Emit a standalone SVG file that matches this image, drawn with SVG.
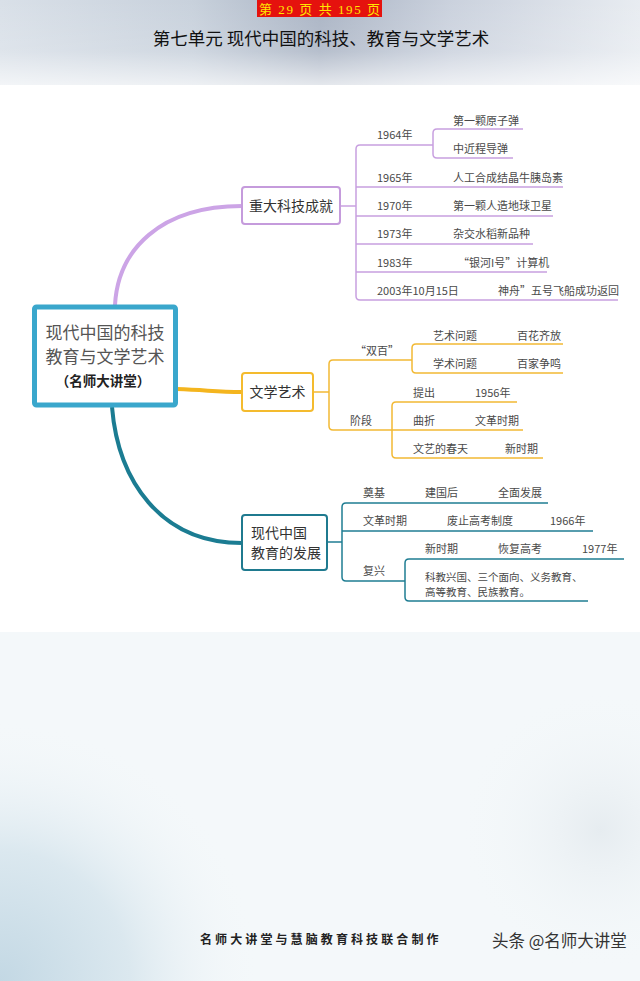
<svg xmlns="http://www.w3.org/2000/svg" width="640" height="981" viewBox="0 0 640 981">
<defs>
<linearGradient id="topH" x1="0" y1="0" x2="1" y2="0">
<stop offset="0" stop-color="#d9e0e8"/>
<stop offset="0.3" stop-color="#c8d1dc"/>
<stop offset="0.5" stop-color="#aab4c4"/>
<stop offset="0.7" stop-color="#cad1dd"/>
<stop offset="1" stop-color="#e8ecf1"/>
</linearGradient>
<linearGradient id="topV" x1="0" y1="0" x2="0" y2="1">
<stop offset="0" stop-color="#ffffff" stop-opacity="0"/>
<stop offset="0.6" stop-color="#ffffff" stop-opacity="0.15"/>
<stop offset="1" stop-color="#ffffff" stop-opacity="0.7"/>
</linearGradient>
<radialGradient id="blBlue" cx="0" cy="981" r="260" gradientUnits="userSpaceOnUse">
<stop offset="0" stop-color="#c3d8e4"/>
<stop offset="0.5" stop-color="#dbe8ef"/>
<stop offset="1" stop-color="#f4f8fa" stop-opacity="0"/>
</radialGradient>
<radialGradient id="brGray" cx="600" cy="830" r="140" gradientUnits="userSpaceOnUse">
<stop offset="0" stop-color="#e6ecf0"/>
<stop offset="1" stop-color="#f4f8fa" stop-opacity="0"/>
</radialGradient>
<style>
.t{font-family:"Noto Sans CJK SC","Noto Sans",sans-serif;fill:#4a4a4a;font-size:11px}
.n{font-family:"Noto Sans CJK SC","Noto Sans",sans-serif;fill:#333;font-size:14px}
.pl{fill:none;stroke:#c8a0e0;stroke-width:1.5}
.yl{fill:none;stroke:#f2b934;stroke-width:1.5}
.tl{fill:none;stroke:#1f7d93;stroke-width:1.5}
</style>
</defs>
<rect x="0" y="0" width="640" height="981" fill="#f4f8fa"/>
<rect x="0" y="632" width="640" height="349" fill="url(#blBlue)"/>
<rect x="0" y="632" width="640" height="349" fill="url(#brGray)"/>
<rect x="0" y="0" width="640" height="86" fill="url(#topH)"/>
<rect x="0" y="0" width="640" height="86" fill="url(#topV)"/>
<rect x="0" y="85" width="640" height="547" fill="#ffffff"/>

<g id="header">
<rect x="257" y="0" width="125" height="17" fill="#e5120e"/>
<text x="259" y="13.5" textLength="121" lengthAdjust="spacing" font-family="'Liberation Serif','Noto Sans CJK SC',serif" font-size="13" fill="#ffe600" xml:space="preserve">第 29 页 共 195 页</text>
<text x="321" y="45" text-anchor="middle" font-family="'Noto Sans CJK SC',sans-serif" font-size="17.5" fill="#111">第七单元 现代中国的科技、教育与文学艺术</text>
</g>

<g id="connectors">
<path d="M115,305 C118,250 160,206 242,206" fill="none" stroke="#cca4e6" stroke-width="4"/>
<path d="M177,389 C208,390 215,392 242,392" fill="none" stroke="#f4b51e" stroke-width="4"/>
<path d="M112,407 C118,480 160,543 242,543" fill="none" stroke="#1b7c92" stroke-width="4"/>

<path class="pl" d="M340,206 H356"/>
<path class="pl" d="M433,145 H360 Q356,145 356,149 V296 Q356,300 360,300 H618"/>
<path class="pl" d="M356,187 H563 M356,216 H553 M356,244 H533 M356,272 H547"/>
<path class="pl" d="M523,129 H437 Q433,129 433,133 V154 Q433,158 437,158 H513"/>

<path class="yl" d="M313,392 H329"/>
<path class="yl" d="M412,360 H333 Q329,360 329,364 V426 Q329,430 333,430 H523"/>
<path class="yl" d="M563,344 H416 Q412,344 412,348 V369 Q412,373 416,373 H563"/>
<path class="yl" d="M517,402 H396 Q392,402 392,406 V454 Q392,458 396,458 H543"/>

<path class="tl" d="M327,542 H342"/>
<path class="tl" d="M548,503 H346 Q342,503 342,507 V577 Q342,581 346,581 H405"/>
<path class="tl" d="M342,531 H593"/>
<path class="tl" d="M624,559 H409 Q405,559 405,563 V597 Q405,601 409,601 H588"/>
</g>

<g id="root">
<rect x="34.5" y="307" width="141" height="98" rx="2" fill="#fff" stroke="#3aa7cc" stroke-width="5"/>
<text x="105" y="339" text-anchor="middle" font-family="'Noto Sans CJK SC',sans-serif" font-size="17" fill="#555">现代中国的科技</text>
<text x="105" y="363" text-anchor="middle" font-family="'Noto Sans CJK SC',sans-serif" font-size="17" fill="#555">教育与文学艺术</text>
<text x="103" y="386" text-anchor="middle" font-family="'Noto Sans CJK SC',sans-serif" font-size="13.5" font-weight="bold" fill="#222">（名师大讲堂）</text>
</g>

<g id="node-keji">
<rect x="242" y="187" width="98" height="37" rx="3" fill="#fff" stroke="#c59bdc" stroke-width="2"/>
<text class="n" x="291" y="211" text-anchor="middle">重大科技成就</text>
</g>
<g id="keji-items">
<text class="t" x="377" y="139">1964年</text>
<text class="t" x="453" y="125">第一颗原子弹</text>
<text class="t" x="453" y="153">中近程导弹</text>
<text class="t" x="377" y="182">1965年</text>
<text class="t" x="453" y="182">人工合成结晶牛胰岛素</text>
<text class="t" x="377" y="210">1970年</text>
<text class="t" x="453" y="210">第一颗人造地球卫星</text>
<text class="t" x="377" y="238">1973年</text>
<text class="t" x="453" y="238">杂交水稻新品种</text>
<text class="t" x="377" y="267">1983年</text>
<text class="t" x="458" y="267">“银河I号”计算机</text>
<text class="t" x="377" y="295">2003年10月15日</text>
<text class="t" x="498" y="295">神舟”五号飞船成功返回</text>
</g>

<g id="node-wenxue">
<rect x="242" y="373" width="71" height="38" rx="3" fill="#fff" stroke="#f4bb2e" stroke-width="2"/>
<text class="n" x="277.5" y="397" text-anchor="middle">文学艺术</text>
</g>
<g id="wenxue-items">
<text class="t" x="355" y="355">“双百”</text>
<text class="t" x="433" y="340">艺术问题</text>
<text class="t" x="517" y="340">百花齐放</text>
<text class="t" x="433" y="368">学术问题</text>
<text class="t" x="517" y="368">百家争鸣</text>
<text class="t" x="350" y="425">阶段</text>
<text class="t" x="413" y="397">提出</text>
<text class="t" x="475" y="397">1956年</text>
<text class="t" x="413" y="425">曲折</text>
<text class="t" x="475" y="425">文革时期</text>
<text class="t" x="413" y="453">文艺的春天</text>
<text class="t" x="505" y="453">新时期</text>
</g>

<g id="node-jiaoyu">
<rect x="242" y="515" width="85" height="55" rx="3" fill="#fff" stroke="#1f7a8f" stroke-width="2"/>
<text class="n" x="251" y="538">现代中国</text>
<text class="n" x="251" y="558">教育的发展</text>
</g>
<g id="jiaoyu-items">
<text class="t" x="363" y="497">奠基</text>
<text class="t" x="425" y="497">建国后</text>
<text class="t" x="498" y="497">全面发展</text>
<text class="t" x="363" y="525">文革时期</text>
<text class="t" x="447" y="525">废止高考制度</text>
<text class="t" x="550" y="525">1966年</text>
<text class="t" x="363" y="575">复兴</text>
<text class="t" x="425" y="553">新时期</text>
<text class="t" x="498" y="553">恢复高考</text>
<text class="t" x="582" y="553">1977年</text>
<text class="t" x="425" y="580.5" font-size="10.5" style="font-size:10.5px">科教兴国、三个面向、义务教育、</text>
<text class="t" x="425" y="596" font-size="10.5" style="font-size:10.5px">高等教育、民族教育。</text>
</g>

<g id="footer">
<text x="200" y="944" font-family="'Noto Sans CJK SC',sans-serif" font-size="12" font-weight="bold" letter-spacing="3.1" fill="#222">名师大讲堂与慧脑教育科技联合制作</text>
<text x="492" y="947" font-family="'Noto Sans CJK SC',sans-serif" font-size="16.5" fill="#333">头条 @名师大讲堂</text>
</g>
</svg>
